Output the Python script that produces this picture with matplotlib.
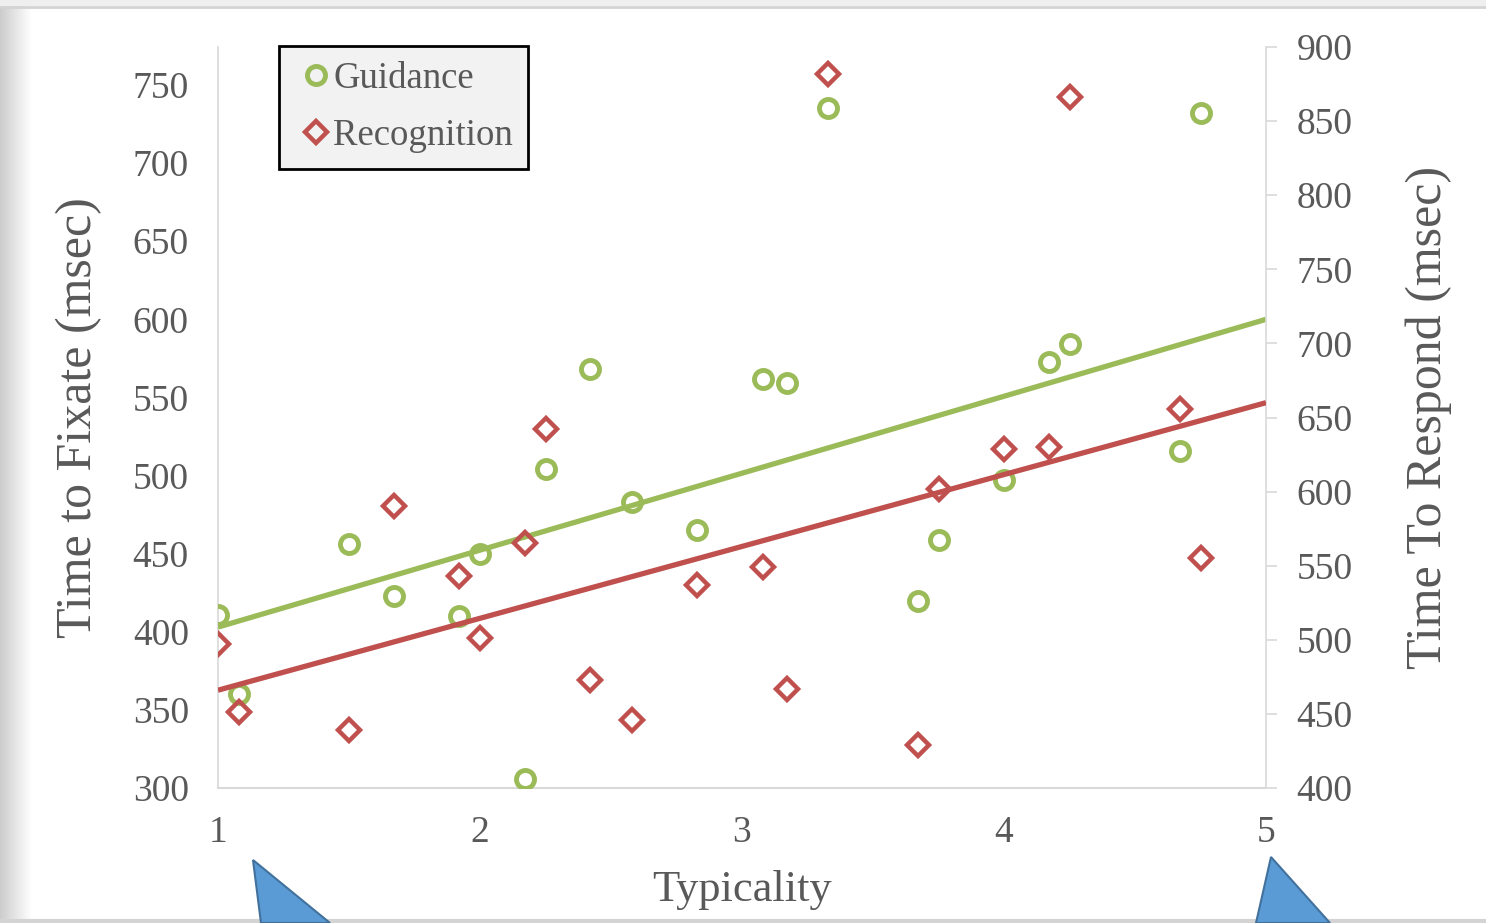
import numpy as np
import matplotlib.pyplot as plt
from matplotlib.patches import Polygon, Rectangle

# data
typicality = [1.0, 1.08, 1.5, 1.67, 1.92, 2.0, 2.17, 2.25, 2.42, 2.58, 2.83,
              3.08, 3.17, 3.33, 3.67, 3.75, 4.0, 4.17, 4.25, 4.67, 4.75]
guidance = [411, 360, 456, 423, 410, 450, 306, 504, 568, 483, 465,
            562, 559, 735, 420, 459, 497, 573, 584, 516, 732]
recognition = [497, 451, 439, 590, 543, 501, 565, 642, 473, 446, 537,
               549, 467, 882, 429, 602, 629, 630, 866, 656, 555]

# trendline values at typicality 1 and 5
trend_x = [1, 5]
guidance_trend = [403, 600]
recognition_trend = [466, 660]

left_ticks = [300, 350, 400, 450, 500, 550, 600, 650, 700, 750]
right_ticks = [400, 450, 500, 550, 600, 650, 700, 750, 800, 850, 900]
x_ticks = [1, 2, 3, 4, 5]

green = '#9bbb59'
red = '#c0504d'
txt = '#595959'
spine_col = '#d9d9d9'

plt.rcParams['font.family'] = 'Liberation Serif'

fig = plt.figure(figsize=(14.86, 9.23), dpi=100)
fig.patch.set_facecolor('white')

# screenshot frame: gray band left, top and bottom lines
band = fig.add_axes([0, 0, 32 / 1486, 1])
grad = np.linspace(0.80, 1.0, 64).reshape(1, -1)
band.imshow(grad, cmap='gray', vmin=0, vmax=1, aspect='auto', extent=[0, 1, 0, 1])
band.axis('off')
fig.patches.append(Rectangle((0, 1 - 6 / 923), 1, 6 / 923, transform=fig.transFigure,
                             facecolor='#efefef', edgecolor='none', zorder=0))
fig.lines.append(plt.Line2D([0, 1], [1 - 7 / 923, 1 - 7 / 923], transform=fig.transFigure,
                            color='#d4d4d4', lw=2))
fig.lines.append(plt.Line2D([0, 1], [2 / 923, 2 / 923], transform=fig.transFigure,
                            color='#d4d4d4', lw=3))

ax = fig.add_axes([218 / 1486, 1 - 788 / 923, 1048 / 1486, 741 / 923])
ax2 = ax.twinx()

ax.plot(typicality, guidance, 'o', ms=13, mfc='none', mec=green, mew=3.5, zorder=3)
ax2.plot(typicality, recognition, 'D', ms=11, mfc='none', mec=red, mew=3.2, zorder=3)

# linear trendlines
ax.plot(trend_x, guidance_trend, color=green, lw=3.8, zorder=4, solid_capstyle='butt')
ax2.plot(trend_x, recognition_trend, color=red, lw=3.8, zorder=4, solid_capstyle='butt')

ax.set_xlim(1, 5)
ax.set_ylim(300, 300 + 741 * 450 / 703)
ax2.set_ylim(400, 900)
ax.set_xticks(x_ticks)
ax.set_yticks(left_ticks)
ax2.set_yticks(right_ticks)

for a in (ax, ax2):
    a.set_facecolor('none')
    for s in a.spines.values():
        s.set_visible(False)
ax.spines['left'].set_visible(True)
ax.spines['bottom'].set_visible(True)
ax.spines['left'].set_color(spine_col)
ax.spines['bottom'].set_color(spine_col)
ax.spines['left'].set_linewidth(1.2)
ax.spines['bottom'].set_linewidth(1.5)
ax2.spines['right'].set_visible(True)
ax2.spines['right'].set_color(spine_col)
ax2.spines['right'].set_linewidth(1.2)

ax.tick_params(axis='y', length=0, pad=21, labelsize=27, labelcolor=txt)
ax.tick_params(axis='x', length=0, pad=20, labelsize=27, labelcolor=txt)
ax2.tick_params(axis='y', length=8, width=1.2, color=spine_col, direction='out',
                pad=14, labelsize=27, labelcolor=txt)

ax.set_xlabel('Typicality', fontsize=32, color=txt, labelpad=14)
ax.set_ylabel('Time to Fixate (msec)', fontsize=36, color=txt, labelpad=22)
ax2.set_ylabel('Time To Respond (msec)', fontsize=36, color=txt, labelpad=38)

# legend
h1 = plt.Line2D([], [], ls='none', marker='o', ms=13, mfc='none', mec=green, mew=3.5)
h2 = plt.Line2D([], [], ls='none', marker='D', ms=11, mfc='none', mec=red, mew=3.2)
leg = fig.legend([h1, h2], ['Guidance', 'Recognition'], loc='upper left',
                 bbox_to_anchor=(279 / 1486, 1 - 46 / 923), fontsize=26.5,
                 frameon=True, fancybox=False, handlelength=1.15, handletextpad=-0.1,
                 borderpad=0.42, labelspacing=0.62, borderaxespad=0)
leg.get_frame().set_edgecolor('black')
leg.get_frame().set_linewidth(2)
leg.get_frame().set_facecolor('#f2f2f2')
leg.get_frame().set_alpha(1)
for t in leg.get_texts():
    t.set_color(txt)

# blue callout pointers from the slide
for pts in ([(253, 860), (330, 923), (261, 923)], [(1271, 857), (1330, 923), (1256, 923)]):
    fig.patches.append(Polygon([(px / 1486, 1 - py / 923) for px, py in pts], closed=True,
                               transform=fig.transFigure, facecolor='#5b9bd5',
                               edgecolor='#41719c', lw=1.5, zorder=5))

plt.savefig('out.png', dpi=100)
